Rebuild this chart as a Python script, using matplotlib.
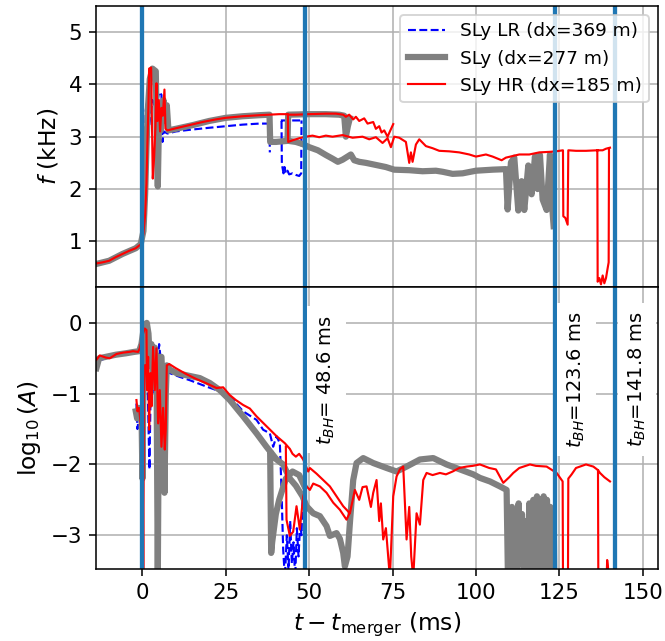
"""
GW frequency and amplitude after merger for three SLy resolutions.
"""

import numpy as np
import matplotlib
matplotlib.use('Agg')
import matplotlib.pyplot as plt

nan = np.nan

# ============== Data ==============
# black hole formation times (ms)
T_BH = [48.6, 123.6, 141.8]
T_MERGER_LINE = 0.0

LABELS = ['SLy LR (dx=369 m)', 'SLy (dx=277 m)', 'SLy HR (dx=185 m)']

# --- top panel: f (kHz) ---
f_lr_t = [-13.8, -8, -2, -0.5, 0.3, 0.7, 1.0, 1.3, 2.0, 3.0, 4.0, 5.0, 5.7, 6.0,
          6.4, 7.5, 10, 14, 20, 25, 30, 35, 38.1, 38.2,
          nan, 41.5, 43, 45, 47.7,
          nan, 41.7, 41.8, 42.3, 42.6, 43.0, 43.5, 44, 45, 46, 47, 47.6, 47.7]
f_lr = [0.58, 0.70, 0.87, 0.95, 1.3, 2.5, 3.5, 3.65, 3.2, 3.7, 3.5, 3.85, 3.8, 2.9,
        3.1, 3.06, 3.1, 3.13, 3.17, 3.2, 3.23, 3.25, 3.25, 2.7,
        nan, 3.31, 3.31, 3.31, 3.31,
        nan, 3.3, 2.48, 2.3, 2.42, 2.3, 2.35, 2.28, 2.3, 2.27, 2.25, 2.3, 3.31]

f_mid_t = [-13.8, -10, -6, -2, -0.5, 0.3, 0.8, 1.2, 1.6, 2.2, 3.0, 4.0, 4.3, 4.6,
           4.9, 5.5, 6.3, 6.8, 7.3, 7.8, 10, 15, 20, 25, 30, 35, 38.1, 38.3,
           40, 43.5, 43.7, 50, 55, 59, 60.5, 61, 61.6, 62.2,
           nan, 43.8, 46, 48, 50, 52.6, 55, 57, 58.6, 60, 61.5, 62.5, 63.5, 65,
           67, 70, 73, 75.5, 80, 84, 88, 90, 93, 96, 100, 105, 109, 109.5,
           110.5, 111.5, 112.7, 113.7, 114.5, 115.7, 116.7, 117.7, 118.5, 119.2,
           120, 121.2, 122.2, 122.7, 123.3]
f_mid = [0.57, 0.63, 0.76, 0.87, 0.95, 1.2, 1.9, 2.8, 3.5, 4.1, 4.3, 4.25, 3.1, 2.05,
         3.1, 3.12, 3.7, 3.3, 3.6, 3.12, 3.15, 3.22, 3.3, 3.36, 3.39, 3.41, 3.42, 2.9,
         2.9, 2.92, 3.42, 3.43, 3.43, 3.42, 3.4, 3.0, 3.2, 3.35,
         nan, 2.92, 2.9, 2.86, 2.8, 2.74, 2.65, 2.58, 2.52, 2.56, 2.62, 2.66, 2.55, 2.52,
         2.5, 2.46, 2.42, 2.37, 2.36, 2.34, 2.35, 2.33, 2.29, 2.3, 2.35, 2.37, 2.38, 1.61,
         2.51, 2.6, 1.59, 2.15, 1.6, 2.45, 1.9, 2.62, 2.0, 2.65,
         1.8, 1.6, 2.66, 1.8, 1.29]

f_hr_t = [-13.8, -12, -10, -8, -6, -4, -2, -1, -0.3, 0.3, 0.8, 1.2, 1.5, 1.8, 2.0,
          2.6, 2.8, 3.1, 3.5, 3.9, 4.2, 4.5, 4.9, 5.3, 5.7, 6.1, 6.6, 6.9, 7.5,
          10, 14, 18, 22, 25, 30, 35, 38, 41, 43.6, 43.7, 45, 47, 49, 51, 53, 55,
          57, 60, 63, 66, 68, 70, 72, 73.5, 74.5, 75.5, 77, 79, 80, 80.5, 81, 82,
          83, 85, 87, 89, 92, 95, 98, 100, 103, 105, 107.7, 109, 111, 113, 116,
          119, 122, 124, 126.1, 126.2, 126.8, 127.5, 127.7, 130, 133, 136.4, 138,
          139, 140.2,
          nan, 136.4, 136.5, 137.0, 137.5, 138.0, 138.5, 139.0, 139.5, 139.8, 139.9,
          nan, 43.7, 46, 50, 55, 58, 60.2, 61, 62, 63.2, 64, 65, 66.5, 67.5, 69.2,
          70, 71, 71.7, 72.5, 73.5, 74.2, 75.2]
f_hr = [0.58, 0.60, 0.63, 0.70, 0.76, 0.82, 0.87, 0.92, 0.95, 1.15, 1.5, 2.1, 2.9, 3.6, 4.3,
        4.32, 3.5, 2.2, 2.6, 3.2, 4.02, 3.3, 3.7, 3.1, 3.55, 3.4, 3.9, 3.15, 3.12,
        3.16, 3.22, 3.28, 3.33, 3.36, 3.39, 3.41, 3.42, 3.43, 3.43, 2.9, 2.93, 2.97, 3.0, 3.02, 2.99, 3.02,
        3.0, 3.03, 2.98, 3.0, 2.95, 2.99, 2.88, 2.97, 2.8, 3.0, 2.98, 2.9, 2.5, 2.7, 2.52, 2.85,
        2.95, 2.82, 2.78, 2.73, 2.72, 2.70, 2.66, 2.62, 2.66, 2.62, 2.55, 2.6, 2.63, 2.66, 2.66,
        2.70, 2.71, 2.72, 2.74, 1.48, 1.45, 1.32, 2.74, 2.73, 2.73, 2.74, 2.74,
        2.77, 2.79,
        nan, 2.74, 0.23, 0.3, 0.18, 0.35, 0.2, 0.3, 0.49, 0.6, 2.77,
        nan, 3.42, 3.42, 3.43, 3.44, 3.44, 3.42, 3.38, 3.42, 3.33, 3.38, 3.3, 3.35, 3.25, 3.28,
        3.15, 3.2, 3.08, 3.12, 3.0, 3.1, 3.24]

# --- bottom panel: log10(A) ---
a_lr_t = [-13.8, -10, -6, -2.5, -0.5, 0.3, 0.8, 1.3, 1.7, 2.1, 2.5, 3.0, 3.5, 4.0,
          4.5, 5.0, 5.7, 8.2, 11, 14.2, 19.2, 22.2, 26.2, 30.2, 34.2, 36.2, 38.2,
          39.2, 40.2, 41.2, 41.7, 42.2, 42.7, 43.3, 43.8, 44.3, 44.8, 45.3, 45.8,
          46.3, 46.8, 47.3, 47.7, 48.0,
          nan, -1.8, -1.5, -1.0, -0.5, 0.0, 0.5]
a_lr = [-0.55, -0.48, -0.43, -0.41, -0.38, -0.15, -0.05, -0.3, -1.2, -2.07, -0.8, -0.4, -1.0, -0.35,
        -0.6, -0.3, -0.62, -0.71, -0.76, -0.81, -0.9, -0.95, -1.04, -1.25, -1.37, -1.51, -1.56,
        -1.75, -1.6, -1.70, -2.36, -3.2, -3.6, -3.0, -3.5, -2.8, -3.4, -3.1, -3.6,
        -2.9, -3.3, -2.83, -3.0, -2.5,
        nan, -1.14, -1.5, -1.3, -1.51, -1.2, -0.8]

a_mid_t = [-13.8, -13, -11, -8, -5, -2.5, -1, -0.3, 0.3, 0.8, 1.3, 1.8, 2.3, 2.7,
           3.2, 3.7, 4.2, 4.6, 5.0, 5.7, 6.2, 6.6, 7.0, 7.3, 8.2, 10.2, 14.2, 17.2,
           20.2, 23.2, 26.2, 30.2, 34.2, 37.2, 40.2, 42.2, 44.2, 46, 48, 49.2, 51.2,
           53.2, 55.2, 56.2, 58.2, 59.2, 60.2, 60.7, 61.5, 62.2, 63.2, 64.2, 66.2,
           69.2, 73.2, 76.2, 79.2, 83.2, 87.2, 91.2, 95.2, 99.2, 101.2, 104.2,
           107.2, 109.2, 109.6, 110, 110.3, 110.8, 111.3, 111.8, 112.2, 112.8,
           113.3, 113.8, 114.3, 115, 115.5, 116, 116.6, 117.2, 117.8, 118.3, 118.8,
           119.3, 119.8, 120.3, 120.8, 121.3, 121.8, 122.3, 122.8, 123.3, 123.5,
           nan, 38.3, 38.6, 38.9, 40, 41, 43, 45, 47, 48.5,
           nan, -2.0, -1.6, -1.2, -0.6, -0.3, 0.0, 0.3, 0.7]
a_mid = [-0.64, -0.5, -0.48, -0.45, -0.43, -0.41, -0.40, -0.3, -0.1, -0.02, 0.0, -0.15, -0.6, -0.3,
         -0.9, -0.35, -0.5, -3.6, -0.48, -0.48, -1.04, -2.4, -1.0, -0.6, -0.66, -0.71, -0.75, -0.78,
         -0.85, -0.95, -1.09, -1.32, -1.56, -1.75, -1.93, -2.0, -2.2, -2.3, -2.45, -2.59, -2.69,
         -2.73, -2.87, -3.01, -2.97, -3.05, -3.25, -3.44, -3.3, -2.83, -2.22, -1.98, -1.91,
         -1.98, -2.05, -2.1, -2.03, -1.93, -1.91, -2.0, -2.07, -2.14, -2.19, -2.24,
         -2.31, -2.36, -3.6, -2.8, -3.6, -2.6, -3.6, -2.9, -3.6, -2.55,
         -3.4, -2.7, -3.6, -2.8, -3.6, -2.55, -3.6, -2.5, -3.6, -2.45, -3.4,
         -2.5, -3.6, -2.45, -3.6, -2.5, -3.6, -2.6, -3.6, -2.7, -3.6,
         nan, -1.85, -3.25, -3.1, -2.7, -2.5, -2.2, -2.1, -2.15, -2.3,
         nan, -1.25, -1.35, -1.2, -1.3, -1.2, -2.2, -0.8, -0.2]

a_hr_t = [-13.8, -12.8, -11, -9.8, -7.8, -5.8, -4, -2.8, -1.3, -0.8, -0.3, 0.2, 0.7,
          1.2, 1.4, 1.7, 2.0, 2.4, 2.7, 3.2, 3.7, 4.2, 4.7, 5.2, 5.7, 6.2, 6.7,
          7.0, 7.3, 8, 10, 13, 16, 19, 22.2, 24.2, 26.2, 28, 30.2, 32.2, 34.2,
          37.2, 40.2, 42.7, 44.2, 45, 46, 47, 48.2, 49.7, 50.2, 52.2, 54.2, 56.2,
          58.2, 60.2, 62.2, 63.7, 65, 66, 67.2, 68.5, 69.2, 70.2, 71, 71.5, 72.2,
          73, 74.2, 75.2, 76.2, 77.2, 78.2, 79.2, 80, 80.6, 81.2, 82.2, 83.2, 84.2,
          85.2, 87, 89.2, 91, 93, 95, 97.2, 99, 101.2, 104, 106, 108.2, 110,
          111.2, 113, 116.2, 118, 121.2, 124.2, 126.0, 126.1, 127.6, 127.7, 128.7,
          130, 131.2, 133, 135.2, 136.6, 137.2, 138.5, 140.2,
          nan, 136.6, 136.7, 139.2, 139.35, 139.6, 139.7,
          nan, -1.8, -1.5, -1.0, -0.5, 0.0, 0.25, 0.45, 0.8,
          nan, 43, 43.2, 44.2, 45.2, 46.2, 47.2, 48.2, 49.2, 50.2, 51.2, 53.2,
          55.2, 57.2, 59.2, 61.2, 62]
a_hr = [-0.52, -0.46, -0.49, -0.50, -0.44, -0.42, -0.41, -0.40, -0.41, -0.36, -0.24, -0.15, -0.08,
        -0.10, -0.95, -0.48, -1.51, -0.71, -1.18, -0.34, -0.95, -0.36, -1.42, -0.95, -1.75, -1.2, -1.79,
        -1.5, -0.6, -0.58, -0.64, -0.72, -0.79, -0.85, -0.92, -0.91, -1.02, -1.09, -1.16, -1.21, -1.32,
        -1.46, -1.6, -1.70, -1.78, -1.85, -1.89, -1.85, -1.93, -2.1, -2.05, -2.13, -2.22, -2.31,
        -2.45, -2.59, -2.69, -2.36, -2.5, -2.32, -2.31, -2.6, -2.4, -2.22, -2.8, -2.55, -3.06,
        -2.9, -3.6, -2.45, -2.17, -2.07, -2.03, -3.06, -2.6, -3.3, -3.6, -2.69, -2.85, -2.22,
        -2.12, -2.15, -2.12, -2.14, -2.1, -2.05, -2.03, -2.02, -2.0, -2.05, -2.07, -2.26, -2.18,
        -2.12, -2.05, -2.0, -2.02, -2.03, -2.12, -2.24, -3.6, -3.6, -2.2, -2.14,
        -2.05, -2.03, -2.0, -2.03, -2.08, -2.12, -2.18, -2.24,
        nan, -2.08, -3.6, -3.6, -3.35, -3.45, -3.6,
        nan, -1.09, -1.25, -1.2, -1.45, -1.15, -3.6, -1.0, -0.6,
        nan, -1.75, -2.78, -3.01, -2.95, -2.59, -2.92, -2.45, -2.31, -2.36, -2.27, -2.31,
        -2.4, -2.54, -2.64, -2.78, -2.7]

X_LIMITS = (-14.0, 154.6)
F_LIMITS = (0.12, 5.5)
A_LIMITS = (-3.48, 0.5)


# ============== Plot ==============
def draw_series(ax, t_lr, y_lr, t_mid, y_mid, t_hr, y_hr):
    ax.plot(t_lr, y_lr, color='blue', linestyle='--', linewidth=1.1, label=LABELS[0])
    ax.plot(t_mid, y_mid, color='gray', linewidth=3.2, label=LABELS[1])
    ax.plot(t_hr, y_hr, color='red', linewidth=1.1, label=LABELS[2])
    ax.axvline(T_MERGER_LINE, color='C0', linewidth=2.2)
    for t in T_BH:
        ax.axvline(t, color='C0', linewidth=2.2)
    ax.grid(True)


def main():
    fig, (ax1, ax2) = plt.subplots(2, 1, sharex=True, figsize=(665 / 140, 641 / 140), dpi=140)
    fig.subplots_adjust(left=0.144, right=0.9895, top=0.991, bottom=0.112, hspace=0)

    draw_series(ax1, f_lr_t, f_lr, f_mid_t, f_mid, f_hr_t, f_hr)
    ax1.set_ylim(*F_LIMITS)
    ax1.set_yticks([1, 2, 3, 4, 5])
    ax1.set_ylabel(r'$f$ (kHz)', fontsize=12)
    ax1.legend(loc='upper right', fontsize=9.5)

    draw_series(ax2, a_lr_t, a_lr, a_mid_t, a_mid, a_hr_t, a_hr)
    ax2.set_ylim(*A_LIMITS)
    ax2.set_yticks([-3, -2, -1, 0])
    ax2.set_ylabel(r'$\log_{10}(A)$', fontsize=12)
    ax2.set_xlabel(r'$t-t_{\rm merger}$ (ms)', fontsize=12)
    ax2.set_xlim(*X_LIMITS)
    ax2.set_xticks([0, 25, 50, 75, 100, 125, 150])

    for t in T_BH:
        ax2.text(t + 6.5, -0.8, r'$t_{BH}$=' + f'{t:5.1f} ms', rotation=90,
                 ha='center', va='center', fontsize=10,
                 bbox=dict(facecolor='white', edgecolor='none', boxstyle='square,pad=0.45'))

    for ax in (ax1, ax2):
        ax.tick_params(labelsize=11)

    plt.savefig('out.png', dpi=140)


if __name__ == '__main__':
    main()
